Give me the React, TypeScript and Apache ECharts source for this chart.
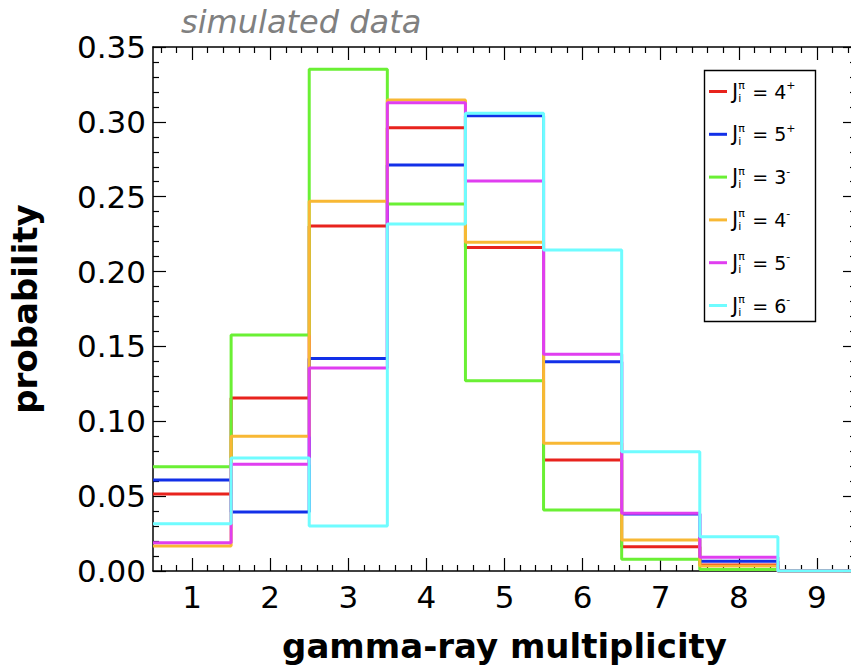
import React, { useEffect, useRef } from "react";
import * as echarts from "echarts";

// Multiplicity bins (bin k spans k-0.5 .. k+0.5)
const multiplicity = [1, 2, 3, 4, 5, 6, 7, 8, 9];

// Probability per bin for each initial spin-parity
const red4p = [0.0514, 0.1156, 0.2305, 0.296, 0.216, 0.0741, 0.0162, 0.004, 0];
const blue5p = [0.0608, 0.0394, 0.142, 0.2712, 0.3041, 0.1398, 0.038, 0.0065, 0];
const green3m = [0.0697, 0.1576, 0.3351, 0.2451, 0.127, 0.0407, 0.0078, 0.001, 0];
const orange4m = [0.0167, 0.09, 0.247, 0.3146, 0.2196, 0.0853, 0.0207, 0.0033, 0];
const magenta5m = [0.0189, 0.0713, 0.1356, 0.3128, 0.2605, 0.1447, 0.0385, 0.0092, 0];
const cyan6m = [0.0316, 0.0755, 0.03, 0.2318, 0.3057, 0.2144, 0.0797, 0.0229, 0];

const spins = ["4", "5", "3", "4", "5", "6"];
const parities = ["+", "+", "-", "-", "-", "-"];
const colors = ["#e8231d", "#1230e8", "#6af034", "#f8b834", "#e03ef0", "#6ffcff"];
const seriesValues = [red4p, blue5p, green3m, orange4m, magenta5m, cyan6m];

// Tick labels
const xTickLabels = [1, 2, 3, 4, 5, 6, 7, 8, 9];
const yTickLabels = ["0.00", "0.05", "0.10", "0.15", "0.20", "0.25", "0.30", "0.35"];

const X_MIN = 0.5;
const X_MAX = 9.5;
const FONT = "'DejaVu Sans', sans-serif";

// Minor tick positions every 0.2 between the integer ticks
const xMinorTicks: number[] = [];
for (let k = 3; k <= 47; k++) {
  if (k % 5 !== 0) xMinorTicks.push(Math.round(k * 20) / 100);
}

// Turn bin contents into a step outline from the left edge to the right edge
function histogramPoints(values: number[]): number[][] {
  const pts = values.map((v, i) => [multiplicity[i] - 0.5, v]);
  pts.push([multiplicity[multiplicity.length - 1] + 0.5, values[values.length - 1]]);
  return pts;
}

function seriesName(i: number) {
  return spins[i] + parities[i];
}

export default function App() {
  const ref = useRef<HTMLDivElement>(null);

  useEffect(() => {
    if (!ref.current) return;
    const chart = echarts.init(ref.current, null, { renderer: "svg" });

    const axisLine = { show: true, lineStyle: { color: "#000", width: 1.5 } };
    const tickStyle = { color: "#000", width: 1.2 };

    const option: any = {
      animation: false,
      backgroundColor: "#fff",
      title: {
        text: "simulated data",
        left: 181,
        top: 6,
        padding: 0,
        textStyle: {
          fontFamily: FONT,
          fontStyle: "italic",
          fontWeight: "normal",
          fontSize: 32,
          color: "#808080",
        },
      },
      grid: { left: 152, right: 4, top: 47, bottom: 93, containLabel: false },
      legend: {
        orient: "vertical",
        left: 709,
        top: 79,
        padding: 0,
        itemGap: 17.8,
        itemWidth: 18,
        itemHeight: 3,
        icon: "rect",
        data: spins.map((_, i) => seriesName(i)),
        formatter: (name: string) => {
          const i = spins.findIndex((_, k) => seriesName(k) === name);
          return `{J|J}{pi|π}{i|i}{eq|= ${spins[i]}}{sup|${parities[i]}}`;
        },
        textStyle: {
          fontFamily: FONT,
          color: "#000",
          rich: {
            J: { fontFamily: FONT, fontSize: 21, lineHeight: 24, verticalAlign: "middle", color: "#000" },
            pi: { fontFamily: FONT, fontSize: 11, width: 0, lineHeight: 12, padding: [0, 0, 12, 0], verticalAlign: "middle", color: "#000" },
            i: { fontFamily: FONT, fontSize: 11, width: 14, lineHeight: 12, padding: [14, 0, 0, 0], verticalAlign: "middle", color: "#000" },
            eq: { fontFamily: FONT, fontSize: 19, lineHeight: 24, verticalAlign: "middle", color: "#000" },
            sup: { fontFamily: FONT, fontSize: 11, lineHeight: 12, padding: [0, 0, 12, 0], verticalAlign: "middle", color: "#000" },
          },
        },
      },
      graphic: [
        {
          type: "rect",
          shape: { x: 704.5, y: 70.5, width: 111, height: 251 },
          style: { fill: "none", stroke: "#000", lineWidth: 1.4 },
          z: 10,
        },
      ],
      xAxis: [
        {
          type: "value",
          min: X_MIN,
          max: X_MAX,
          position: "bottom",
          offset: 0,
          axisLine,
          splitLine: { show: false },
          axisTick: { show: true, inside: true, length: 13, customValues: xTickLabels, lineStyle: tickStyle },
          axisLabel: {
            show: true,
            customValues: xTickLabels,
            margin: 10,
            fontFamily: FONT,
            fontSize: 31,
            color: "#000",
          },
          name: "gamma-ray multiplicity",
          nameLocation: "middle",
          nameGap: 58,
          nameTextStyle: { fontFamily: FONT, fontWeight: "bold", fontSize: 34, color: "#000" },
        },
        {
          type: "value",
          min: X_MIN,
          max: X_MAX,
          position: "bottom",
          offset: 0,
          axisLine: { show: false },
          splitLine: { show: false },
          axisTick: { show: true, inside: true, length: 6, customValues: xMinorTicks, lineStyle: tickStyle },
          axisLabel: { show: false },
        },
        {
          type: "value",
          min: X_MIN,
          max: X_MAX,
          position: "top",
          offset: 0,
          axisLine,
          splitLine: { show: false },
          axisTick: { show: true, inside: true, length: 13, customValues: xTickLabels, lineStyle: tickStyle },
          axisLabel: { show: false },
        },
        {
          type: "value",
          min: X_MIN,
          max: X_MAX,
          position: "top",
          offset: 0,
          axisLine: { show: false },
          splitLine: { show: false },
          axisTick: { show: true, inside: true, length: 6, customValues: xMinorTicks, lineStyle: tickStyle },
          axisLabel: { show: false },
        },
      ],
      yAxis: [
        {
          type: "value",
          min: 0,
          max: 0.35,
          interval: 0.05,
          position: "left",
          offset: 0,
          axisLine,
          splitLine: { show: false },
          minorSplitLine: { show: false },
          axisTick: { show: true, inside: true, length: 13, lineStyle: tickStyle },
          minorTick: { show: true, splitNumber: 5, length: 6, lineStyle: tickStyle },
          axisLabel: {
            margin: 7,
            fontFamily: FONT,
            fontSize: 31,
            color: "#000",
            formatter: (v: number) => yTickLabels[Math.round(v / 0.05)] ?? v.toFixed(2),
          },
          name: "probability",
          nameLocation: "middle",
          nameGap: 111,
          nameRotate: 90,
          nameTextStyle: { fontFamily: FONT, fontWeight: "bold", fontSize: 34, color: "#000" },
        },
        {
          type: "value",
          min: 0,
          max: 0.35,
          interval: 0.05,
          position: "right",
          offset: 0,
          axisLine,
          splitLine: { show: false },
          minorSplitLine: { show: false },
          axisTick: { show: true, inside: true, length: 13, lineStyle: tickStyle },
          minorTick: { show: true, splitNumber: 5, length: 6, lineStyle: tickStyle },
          axisLabel: { show: false },
        },
      ],
      series: seriesValues.map((vals, i) => ({
        name: seriesName(i),
        type: "line",
        step: "end",
        xAxisIndex: 0,
        yAxisIndex: 0,
        symbol: "none",
        data: histogramPoints(vals),
        color: colors[i],
        lineStyle: { color: colors[i], width: 3 },
        z: 2 + i * 0.1,
      })),
    };

    chart.setOption(option);
    return () => chart.dispose();
  }, []);

  return (
    <div
      ref={ref}
      style={{ position: "fixed", left: 0, top: 0, width: 860, height: 668 }}
    />
  );
}
